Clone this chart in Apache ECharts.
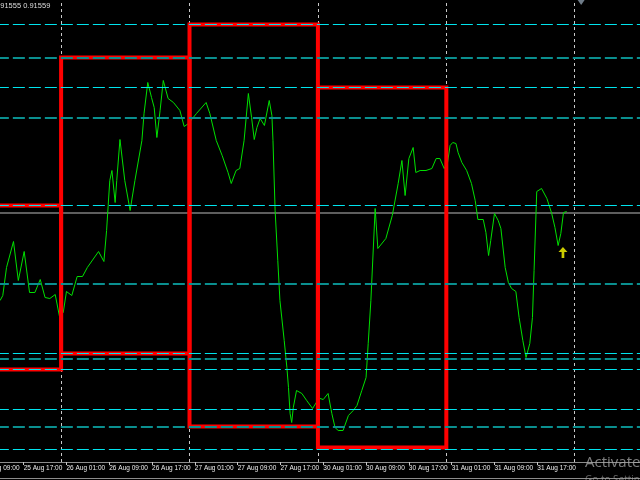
<!DOCTYPE html>
<html>
<head>
<meta charset="utf-8">
<script src="https://cdn.jsdelivr.net/npm/echarts@6/dist/echarts.min.js"></script>
<style>
html,body{margin:0;padding:0;background:#000;}
#chart{width:640px;height:480px;}
</style>
</head>
<body>
<div id="chart"></div>
<script>
// x unit: trading hours since 25 Aug 00:00 (weekend 28-29 Aug skipped)
const tickHours = [9, 17, 25, 33, 41, 49, 57, 65, 73, 81, 89, 97, 105, 113];
const tickLabels = ['25 Aug 09:00','25 Aug 17:00','26 Aug 01:00','26 Aug 09:00','26 Aug 17:00',
  '27 Aug 01:00','27 Aug 09:00','27 Aug 17:00','30 Aug 01:00','30 Aug 09:00','30 Aug 17:00',
  '31 Aug 01:00','31 Aug 09:00','31 Aug 17:00'];
const daySeparators = [24, 48, 72, 96, 120];

// daily high/low boxes
const dayStart = [0, 24, 48, 72];
const dayEnd   = [24, 48, 72, 96];
const dayHigh  = [0.91562, 0.91710, 0.91743, 0.91680];
const dayLow   = [0.91398, 0.91414, 0.91341, 0.91320];

// horizontal levels
const brightLevels = [0.91743, 0.91680, 0.91562, 0.91414, 0.91398, 0.91358, 0.91318];
const tealLevels   = [0.91710, 0.91650, 0.91484, 0.91409, 0.91341];
const currentPrice = 0.91555;

// price line vertices
const lineHours = [12.6,13.1,13.8,15.1,16.0,17.1,18.1,19.1,20.1,21.0,21.9,22.9,23.7,24.4,25.0,26.0,27.0,28.0,28.9,31.0,
  32.0,32.5,32.8,33.1,33.5,34.1,34.4,35.0,35.9,36.9,37.8,39.1,39.5,40.2,40.9,41.4,41.9,42.5,43.1,44.0,
  45.0,46.2,47.0,47.8,49.3,51.1,51.8,53.0,54.1,55.2,55.8,56.7,57.4,58.2,59.0,59.6,60.1,60.6,61.2,62.0,
  62.9,63.4,63.6,64.0,64.5,64.9,65.7,66.2,66.5,66.8,67.1,67.4,68.0,69.0,69.9,71.0,71.7,72.4,73.0,73.9,
  74.6,75.2,75.8,76.7,77.7,78.6,79.3,80.2,81.0,81.4,81.9,82.7,83.2,84.7,85.9,87.0,87.7,88.3,89.0,89.8,
  90.3,91.1,92.2,93.3,94.1,94.8,95.6,96.2,96.7,97.2,97.8,98.2,98.9,99.8,100.7,101.4,101.9,102.9,103.4,103.9,
  104.3,105.0,105.7,106.2,107.0,107.6,108.2,109.0,109.6,110.3,110.9,111.6,112.1,112.4,112.9,113.8,114.8,115.7,116.3,116.9,
  117.4,117.9,118.5];
const linePrices = [0.91467,0.91472,0.91500,0.91526,0.91487,0.91516,0.91475,0.91475,0.91488,0.91470,0.91469,0.91473,0.91451,0.91455,0.91476,0.91472,0.91491,0.91491,0.91500,0.91516,
  0.91506,0.91537,0.91562,0.91587,0.91597,0.91565,0.91587,0.91628,0.91587,0.91557,0.91587,0.91627,0.91654,0.91685,0.91670,0.91660,0.91630,0.91657,0.91687,0.91669,
  0.91665,0.91657,0.91641,0.91644,0.91654,0.91665,0.91654,0.91627,0.91612,0.91595,0.91584,0.91597,0.91599,0.91627,0.91674,0.91650,0.91628,0.91640,0.91649,0.91642,
  0.91667,0.91652,0.91627,0.91557,0.91507,0.91467,0.91427,0.91400,0.91380,0.91354,0.91345,0.91360,0.91377,0.91374,0.91367,0.91359,0.91365,0.91369,0.91368,0.91374,
  0.91354,0.91340,0.91337,0.91337,0.91352,0.91357,0.91362,0.91377,0.91390,0.91424,0.91467,0.91559,0.91519,0.91529,0.91552,0.91584,0.91607,0.91572,0.91609,0.91620,
  0.91595,0.91597,0.91597,0.91599,0.91609,0.91609,0.91599,0.91604,0.91622,0.91625,0.91624,0.91615,0.91605,0.91597,0.91584,0.91567,0.91548,0.91548,0.91535,0.91512,
  0.91527,0.91554,0.91547,0.91539,0.91500,0.91485,0.91479,0.91476,0.91450,0.91427,0.91410,0.91424,0.91450,0.91497,0.91576,0.91579,0.91569,0.91554,0.91540,0.91522,
  0.91534,0.91555,0.91556];

const arrowPoint = [117.8, 0.91515];
const shiftMarker = [121.2, 0.91765];

const chart = echarts.init(document.getElementById('chart'), null, {renderer: 'canvas'});
const fontFam = '"Liberation Sans",Arial,sans-serif';

chart.setOption({
  backgroundColor: '#000000',
  animation: false,
  grid: {left: -19.15, right: 0, top: 0, bottom: 18, containLabel: false, outerBoundsMode: 'none'},
  xAxis: {
    type: 'value', min: 9, max: 132.2,
    splitLine: {show: false},
    axisLine: {show: true, lineStyle: {color: '#8c8c8c', width: 1}},
    axisTick: {show: true, customValues: tickHours, length: 3, lineStyle: {color: '#c8c8c8'}},
    axisLabel: {
      show: true, customValues: tickHours, align: 'left', margin: 3,
      color: '#ececec', fontSize: 6.5, fontFamily: fontFam, hideOverlap: false,
      formatter: function (v) { const i = tickHours.indexOf(v); return i >= 0 ? tickLabels[i] : ''; }
    }
  },
  yAxis: {
    type: 'value', min: 0.913055, max: 0.917675,
    show: false, splitLine: {show: false}
  },
  graphic: [
    {type: 'text', z: 100, x: -6, y: 2,
      style: {text: '0.91555 0.91559', fill: '#dcdcdc', font: '7.5px ' + fontFam}},
    {type: 'line', z: 100, shape: {x1: 0, y1: 478.5, x2: 640, y2: 478.5}, style: {stroke: '#8c8c8c', lineWidth: 1}},
    {type: 'text', z: 100, x: 585, y: 455,
      style: {text: 'Activate Windows', fill: 'rgba(170,170,170,0.75)', font: '15px "Open Sans","Noto Sans",sans-serif'}},
    {type: 'text', z: 100, x: 585, y: 475,
      style: {text: 'Go to Settings to activate Windows.', fill: 'rgba(170,170,170,0.6)', font: '10px "Open Sans","Noto Sans",sans-serif'}}
  ],
  series: [
    {
      name: 'days', type: 'line', data: [], z: 1,
      markLine: {
        silent: true, symbol: 'none', z: 1, precision: 6, label: {show: false},
        lineStyle: {color: '#c8c8c8', width: 1, type: [3, 3]},
        data: daySeparators.map(v => ({xAxis: v}))
      }
    },
    {
      name: 'current', type: 'line', data: [], z: 2,
      markLine: {
        silent: true, symbol: 'none', z: 2, precision: 6, label: {show: false},
        lineStyle: {color: '#5e5e5e', width: 2, type: 'solid'},
        data: [{yAxis: currentPrice}]
      }
    },
    {
      name: 'price', type: 'line', z: 3, symbol: 'none', showSymbol: false,
      lineStyle: {color: '#00e000', width: 1},
      data: lineHours.map((h, i) => [h, linePrices[i]])
    },
    {
      name: 'boxes', type: 'custom', z: 4,
      data: dayStart.map((s, i) => [s, dayEnd[i], dayHigh[i], dayLow[i]]),
      encode: {x: [0, 1], y: [2, 3]},
      renderItem: function (params, api) {
        const p1 = api.coord([api.value(0), api.value(2)]);
        const p2 = api.coord([api.value(1), api.value(3)]);
        return {type: 'rect', shape: {x: p1[0], y: p1[1], width: p2[0] - p1[0], height: p2[1] - p1[1]},
          style: {fill: 'none', stroke: '#ff0000', lineWidth: 4}};
      }
    },
    {
      name: 'teal', type: 'line', data: [], z: 5,
      markLine: {
        silent: true, symbol: 'none', z: 5, precision: 6, label: {show: false},
        lineStyle: {color: '#0a8f8f', width: 2, type: [12, 4]},
        data: tealLevels.map(v => ({yAxis: v}))
      }
    },
    {
      name: 'bright', type: 'line', data: [], z: 5,
      markLine: {
        silent: true, symbol: 'none', z: 5, precision: 6, label: {show: false},
        lineStyle: {color: '#00e4ee', width: 1, type: [12, 4]},
        data: brightLevels.map(v => ({yAxis: v}))
      }
    },
    {
      name: 'arrow', type: 'scatter', z: 6,
      symbol: 'path://M5,0 L10,5 L6.5,5 L6.5,11 L3.5,11 L3.5,5 L0,5 Z',
      symbolSize: [9, 11], itemStyle: {color: '#ffff00'},
      data: [arrowPoint]
    },
    {
      name: 'shift', type: 'scatter', z: 6,
      symbol: 'triangle', symbolRotate: 180, symbolSize: [7, 5], itemStyle: {color: '#8a9aaa'},
      data: [shiftMarker]
    }
  ]
});
</script>
</body>
</html>
